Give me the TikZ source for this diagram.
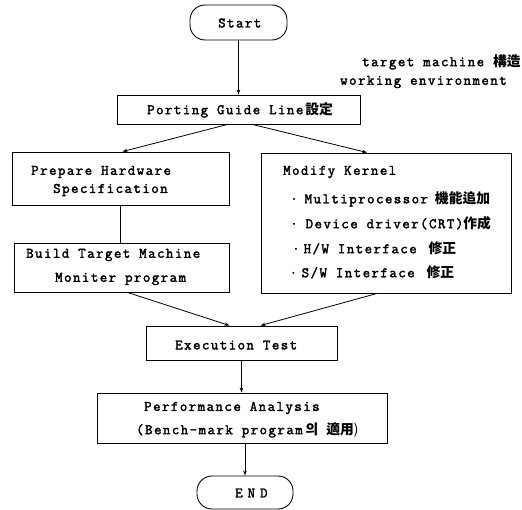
\documentclass[tikz,border=0pt]{standalone}
\usepackage{fontspec}
\setmainfont{Latin Modern Mono}[LetterSpace=10, FakeBold=2.2]
\newfontfamily\cjk{Noto Sans CJK KR}[Scale=0.95]
\usetikzlibrary{arrows.meta}
\begin{document}
\begin{tikzpicture}[x=1bp,y=-1bp,
  box/.style={draw,line width=0.9pt,inner sep=0pt},
  term/.style={draw,line width=0.9pt,inner sep=0pt,rounded corners=15bp},
  txt/.style={inner sep=0pt,anchor=west,font=\fontsize{14.5bp}{16bp}\selectfont},
  conn/.style={line width=0.8pt},
  arr/.style={conn,-{Stealth[length=5pt,width=3.5pt]}}]
\useasboundingbox (0,0) rectangle (522,510);
% boxes
\node[term,minimum width=97bp,minimum height=35bp] (start) at (238.5,22.5) {};
\node[box,minimum width=243bp,minimum height=29bp] (port) at (238.5,109.5) {};
\node[box,minimum width=217bp,minimum height=53bp] (prep) at (120.5,178.5) {};
\node[box,minimum width=250bp,minimum height=140bp] (mod) at (386,223) {};
\node[box,minimum width=215bp,minimum height=49bp] (build) at (121.5,267.5) {};
\node[box,minimum width=191bp,minimum height=34bp] (exec) at (241.5,343) {};
\node[box,minimum width=290bp,minimum height=50bp] (perf) at (242,418) {};
\node[term,minimum width=96bp,minimum height=33bp] (end) at (245,492.5) {};
% texts
\node[txt] (tstart) at (218,23) {Start};
\node[txt] (ttm) at (362,62) {target machine \cjk{\bfseries 構造}};
\node[txt] (twe) at (340,82) {working environment};
\node[txt] (tport) at (147,110) {Porting Guide Line\hspace{2bp}\cjk{\bfseries 設定}};
\node[txt] (tprep1) at (31,172) {Prepare Hardware};
\node[txt] (tprep2) at (53,190) {Specification};
\node[txt] (tmod) at (283,172) {Modify Kernel};
\node[txt] (tm1) at (290,199) {·\hspace{7bp}Multiprocessor\hspace{-2bp} \cjk{\bfseries 機能追加}};
\node[txt] (tm2) at (290,223) {·\hspace{8bp}Device driver(CRT)\cjk{\bfseries 作成}};
\node[txt] (tm3) at (292,248) {·\hspace{4bp}H/W Interface\hspace{12bp}\cjk{\bfseries 修正}};
\node[txt] (tm4) at (289.5,272) {·\hspace{4.5bp}S/W Interface\hspace{12bp}\cjk{\bfseries 修正}};
\node[txt] (tb1) at (26,255) {Build Target Machine};
\node[txt] (tb2) at (55,279) {Moniter program};
\node[txt] (texec) at (175,345) {Execution Test};
\node[txt] (tperf1) at (144,408) {Performance Analysis};
\node[txt] (tperf2) at (136,430) {(Bench-mark program\hspace{3bp}\cjk{\bfseries 의}\hspace{8bp}\cjk{\bfseries 適用})};
\node[txt] (tend) at (235,493) {E\hspace{5bp}N\hspace{5bp}D};
% connectors
\draw[arr] (start.south) -- (port.north);
\draw[arr] ([xshift=-11bp]port.south) -- ([xshift=2bp]prep.north);
\draw[arr] ([xshift=14bp]port.south) -- ([xshift=-19bp]mod.north);
\draw[conn] (prep.south) -- (build.north -| prep.south);
\draw[arr] ([xshift=6bp]build.south) -- ([xshift=-12bp]exec.north);
\draw[arr] ([xshift=-9bp]mod.south) -- ([xshift=19bp]exec.north);
\draw[arr] (exec.south) -- (perf.north -| exec.south);
\draw[arr] (perf.south -| end.north) -- (end.north);
\end{tikzpicture}
\end{document}
